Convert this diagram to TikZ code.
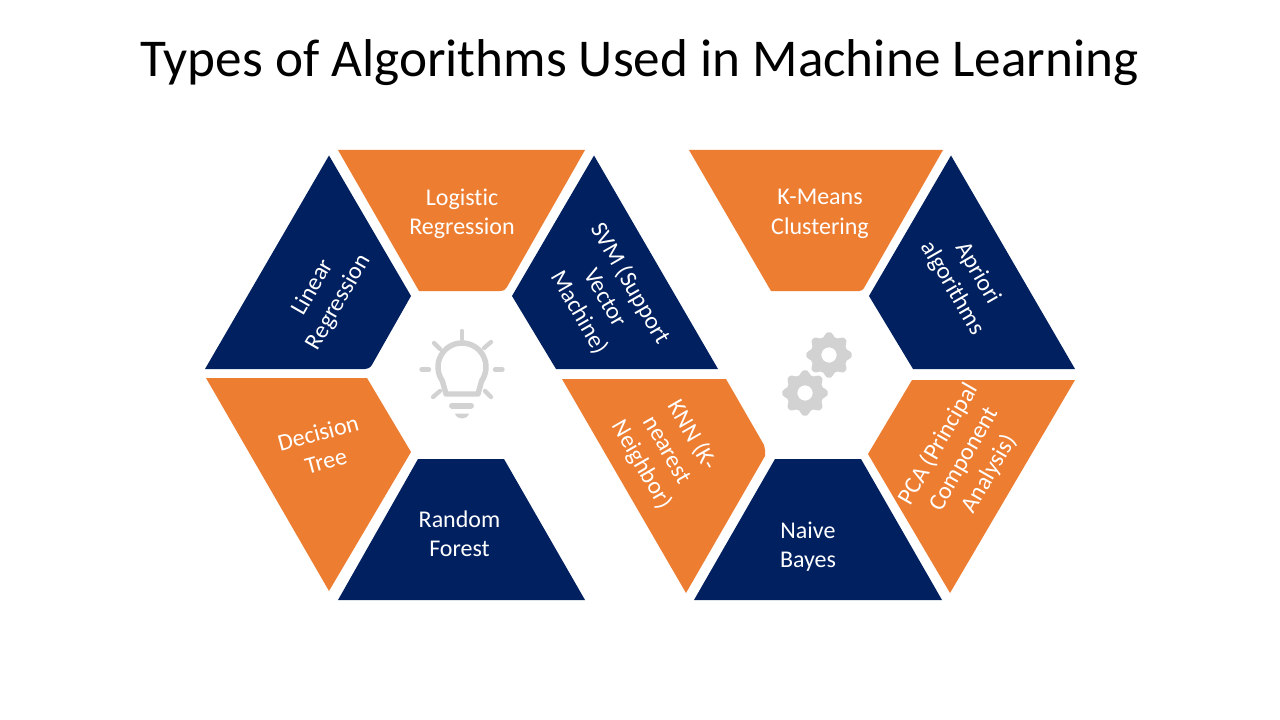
\documentclass[tikz,border=0pt]{standalone}
\usepackage{fontspec}
\setmainfont{Carlito}[RawFeature={-liga;-clig;-dlig}]
\definecolor{navy}{HTML}{002060}
\definecolor{orng}{HTML}{ED7D31}
\definecolor{icon}{HTML}{D2D2D2}
\tikzset{
  navyshape/.style={fill=navy,draw=none},
  orngshape/.style={fill=orng,draw=none},
  lbl/.style={text=white,font=\fontsize{18}{22}\selectfont,align=center,inner sep=0pt},
  bulbline/.style={draw=icon,line width=4.1pt,line cap=round,line join=round},
  ray/.style={draw=icon,line width=3.2pt,line cap=round},
}
\begin{document}
\begin{tikzpicture}[x=0.75pt,y=-0.75pt]
\useasboundingbox (0,0) rectangle (1280,720);
\fill[white] (0,0) rectangle (1280,720);
\node[font=\fontsize{39.9}{48}\selectfont,inner sep=0pt] (title) at (639.5,63) {Types of Algorithms Used in Machine Learning};
% shapes
\fill[navyshape] (329,155.5) -- (411,296) -- (373,363) .. controls (372,365) and (370,369) .. (365,369) -- (205,369) -- cycle;
\fill[orngshape] (338,150) -- (585,150) -- (507,287) .. controls (506,289) and (504,291) .. (500,291) -- (419,291) -- cycle;
\fill[navyshape] (594,155.5) -- (718,369) -- (556,369) -- (512,296) -- cycle;
\fill[orngshape] (206,378) -- (367,378) -- (411,452) -- (329,591) -- cycle;
\fill[navyshape] (418,459) -- (504,459) -- (585,600) -- (338,600) -- cycle;
\fill[orngshape] (562,379) -- (726,379) -- (764,445) .. controls (765,447) and (765,448) .. (765,450) -- (765,456) -- (686,593) -- cycle;
\fill[navyshape] (775,459) -- (861,459) -- (942,600) -- (694,600) -- cycle;
\fill[orngshape] (912,380) -- (1075,380) -- (950,593) -- (868,454) -- cycle;
\fill[orngshape] (689,150) -- (943,150) -- (864,288) .. controls (863,290) and (861,291) .. (859,291) -- (771,291) -- cycle;
\fill[navyshape] (951,155.5) -- (1075,369) -- (913,369) -- (869,296) -- cycle;
% labels
\node[lbl] (logistic) at (462,213.5) {Logistic\\Regression};
\node[lbl] (kmeans) at (820,214) {K-Means\\Clustering};
\node[lbl] (forest) at (459.5,534) {Random\\Forest};
\node[lbl] (bayes) at (808,547) {Naive\\Bayes};
\node[lbl,rotate=60] (linear) at (326,295) {Linear\\Regression};
\node[lbl,rotate=15] (tree) at (322,447) {Decision\\Tree};
\node[lbl,rotate=-60] (svm) at (605,298) {SVM (Support\\Vector\\Machine)};
\node[lbl,rotate=-60] (knn) at (667,450) {KNN (K-\\nearest\\Neighbor)};
\node[lbl,rotate=-60] (apriori) at (965,281) {Apriori\\algorithms};
\node[lbl,rotate=60] (pca) at (964,459) {PCA (Principal\\Component\\Analysis)};
% bulb
\draw[bulbline] plot[smooth,domain=145:395,samples=40] ({462+24*cos(\x)},{367+24*sin(\x)}) -- (478,394) -- (446,394) -- cycle;
\draw[draw=icon,line width=4.5pt,line cap=round] (452,405.5) -- (471,405.5);
\fill[icon] (455,413.5) -- (469,413.5) .. controls (468,417) and (465,418.5) .. (462,418.5) .. controls (459,418.5) and (456,417) .. (455,413.5) -- cycle;
\draw[ray] (462,331) -- (462,339);
\draw[ray] (434,343) -- (440,349);
\draw[ray] (491,342) -- (484,348);
\draw[ray] (421.5,369.5) -- (429,369.5);
\draw[ray] (495,369.5) -- (502.5,369.5);
\draw[ray] (433,397) -- (440,391);
\draw[ray] (485,391) -- (491,397);
% gears
\fill[icon,even odd rule] plot[smooth cycle,domain=0:357.5,samples=144] ({829+(20.6+2.1*max(min(1.2*cos(8*\x),1),-1))*cos(\x)},{355+(20.6+2.1*max(min(1.2*cos(8*\x),1),-1))*sin(\x)}) (829,355) circle[radius=7.7];
\fill[icon,even odd rule] plot[smooth cycle,domain=0:357.5,samples=144] ({805+(20.6+2.1*max(min(1.2*cos(8*\x),1),-1))*cos(\x)},{393+(20.6+2.1*max(min(1.2*cos(8*\x),1),-1))*sin(\x)}) (805,393) circle[radius=7.7];
\end{tikzpicture}
\end{document}
